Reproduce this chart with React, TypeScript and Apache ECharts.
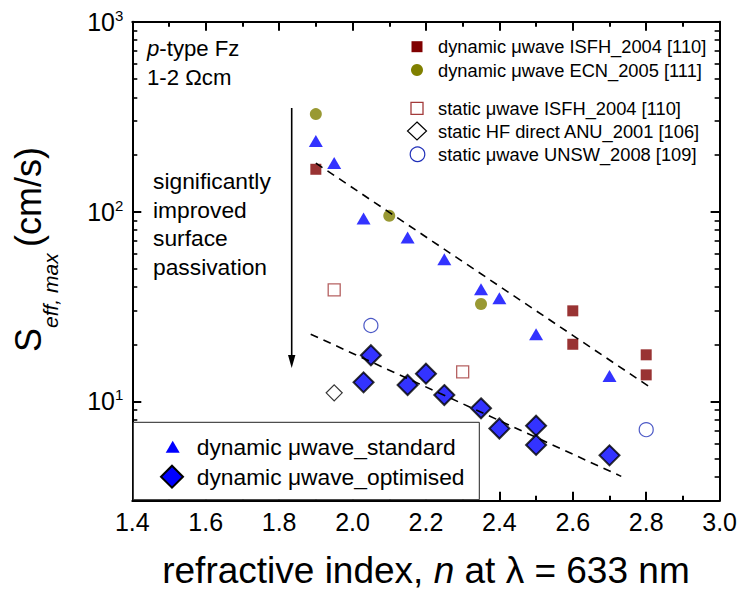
import React, { useEffect, useRef } from "react";
import * as echarts from "echarts";

const FONT = '"Liberation Sans", Arial, Helvetica, sans-serif';

// Axis ranges
const xRange = [1.4, 3.0];
const xStep = 0.2;
const yRange = [3, 1000];

// Refractive index n and S_eff,max (cm/s) for each data set
const standardN = [1.9, 1.95, 2.03, 2.15, 2.25, 2.35, 2.4, 2.5, 2.7];
const standardS = [235, 180, 92, 73, 56, 39, 35, 22.6, 13.6];

const optimisedN = [2.03, 2.05, 2.15, 2.2, 2.25, 2.35, 2.4, 2.5, 2.5, 2.7];
const optimisedS = [12.6, 17.5, 12.2, 14.0, 10.8, 9.2, 7.2, 7.45, 5.9, 5.2];

const isfhDynamicN = [1.9, 2.6, 2.6, 2.8, 2.8];
const isfhDynamicS = [167, 30, 20, 17.6, 13.8];

const ecnDynamicN = [1.9, 2.1, 2.35];
const ecnDynamicS = [326, 95, 32.6];

const isfhStaticN = [1.95, 2.3];
const isfhStaticS = [38.7, 14.3];

const anuStaticN = [1.95];
const anuStaticS = [11.1];

const unswStaticN = [2.05, 2.8];
const unswStaticS = [25.1, 7.1];

// Exponential trend lines (straight on the log axis)
const trendStandardN = [1.9, 2.81];
const trendStandardS = [180, 11.9];
const trendOptimisedN = [1.886, 2.732];
const trendOptimisedS = [22.6, 4.03];

const legendTopGroup1 = ["dynamic \u03bcwave ISFH_2004 [110]", "dynamic \u03bcwave ECN_2005 [111]"];
const legendTopGroup2 = [
  "static \u03bcwave ISFH_2004 [110]",
  "static HF direct ANU_2001 [106]",
  "static \u03bcwave UNSW_2008 [109]",
];
const legendBottom = ["dynamic \u03bcwave_standard", "dynamic \u03bcwave_optimised"];

const pairs = (xs: number[], ys: number[]) => xs.map((x, i) => [x, ys[i]]);

const MAROON = "#800000";
const OLIVE = "#808000";
const BLUE = "#0000ff";
const OPEN_RED = "#a33a3a";
const OPEN_BLUE = "#1f2fb8";

function buildOption() {
  const axisLine = { show: true, onZero: false, lineStyle: { color: "#000", width: 2 } };
  const axisTick = { show: true, inside: true, length: 9, lineStyle: { color: "#000", width: 2 } };
  const minorTickX = { show: true, splitNumber: 2, length: 5, lineStyle: { color: "#000", width: 2 } };
  const minorTickY = { show: true, splitNumber: 9, length: 5, lineStyle: { color: "#000", width: 1.6 } };

  const yLabelFormatter = (v: number) => {
    const e = Math.log10(v);
    if (Math.abs(e - Math.round(e)) > 1e-6) return "";
    return `{b|10}{s|${Math.round(e)}}`;
  };

  const text = (x: number, y: number, t: string, size: number, extra: any = {}) => ({
    type: "text",
    x,
    y,
    z: 120,
    style: {
      text: t,
      fontSize: size,
      fontFamily: FONT,
      fill: "#000",
      verticalAlign: "middle",
      align: "left",
      ...extra,
    },
  });

  const topRows1 = [46.7, 70];
  const topRows2 = [108.3, 131, 154.3];
  const legendX = 417;
  const legendTextX = 438;
  const legendTopSize = 18.3;
  const legendBottomSize = 22.8;
  const noteSize = 22.8;

  const graphic: any[] = [
    // sample description
    text(147, 48, "{i|p}-type Fz", 22.2, {
      rich: { i: { fontStyle: "italic", fontSize: 22.2, fontFamily: FONT, fill: "#000" } },
    }),
    text(147, 77, "1-2 \u03a9cm", 22.2),
    // annotation with arrow
    text(153, 166.6, "significantly\nimproved\nsurface\npassivation", noteSize, {
      verticalAlign: "top",
      lineHeight: 28.7,
    }),
    {
      type: "line",
      z: 120,
      shape: { x1: 291.7, y1: 108, x2: 291.7, y2: 357 },
      style: { stroke: "#000", lineWidth: 1.6 },
    },
    {
      type: "polygon",
      z: 120,
      shape: { points: [[288, 355], [295.4, 355], [291.7, 368]] },
      style: { fill: "#000" },
    },
    // top-right legend, first group
    {
      type: "rect",
      z: 120,
      shape: { x: legendX - 5.5, y: topRows1[0] - 5.5, width: 11, height: 11 },
      style: { fill: MAROON },
    },
    {
      type: "circle",
      z: 120,
      shape: { cx: legendX, cy: topRows1[1], r: 6 },
      style: { fill: OLIVE },
    },
    text(legendTextX, topRows1[0], legendTopGroup1[0], legendTopSize),
    text(legendTextX, topRows1[1], legendTopGroup1[1], legendTopSize),
    // top-right legend, second group
    {
      type: "rect",
      z: 120,
      shape: { x: legendX - 6, y: topRows2[0] - 6, width: 12, height: 12 },
      style: { fill: "none", stroke: OPEN_RED, lineWidth: 1.3 },
    },
    {
      type: "polygon",
      z: 120,
      shape: {
        points: [
          [legendX, topRows2[1] - 9],
          [legendX + 9.5, topRows2[1]],
          [legendX, topRows2[1] + 9],
          [legendX - 9.5, topRows2[1]],
        ],
      },
      style: { fill: "none", stroke: "#000", lineWidth: 1.2 },
    },
    {
      type: "circle",
      z: 120,
      shape: { cx: legendX + 0.5, cy: topRows2[2], r: 7.3 },
      style: { fill: "none", stroke: OPEN_BLUE, lineWidth: 1.2 },
    },
    text(legendTextX, topRows2[0], legendTopGroup2[0], legendTopSize),
    text(legendTextX, topRows2[1], legendTopGroup2[1], legendTopSize),
    text(legendTextX, topRows2[2], legendTopGroup2[2], legendTopSize),
    // framed legend, lower left
    {
      type: "rect",
      z: 110,
      shape: { x: 133.3, y: 422.3, width: 346, height: 77.4 },
      style: { fill: "#fff", stroke: "#222", lineWidth: 1 },
    },
    {
      type: "polygon",
      z: 120,
      shape: { points: [[165.7, 452.7], [179.7, 452.7], [172.7, 440.7]] },
      style: { fill: BLUE },
    },
    {
      type: "polygon",
      z: 120,
      shape: { points: [[172, 465.7], [183, 476.7], [172, 487.7], [161, 476.7]] },
      style: { fill: BLUE, stroke: "#000", lineWidth: 2 },
    },
    text(196.7, 447, legendBottom[0], legendBottomSize),
    text(196.7, 477, legendBottom[1], legendBottomSize),
    // y-axis title, set piece by piece (reads upwards)
    {
      type: "text",
      x: 28,
      y: 352,
      rotation: Math.PI / 2,
      style: { text: "S", fontSize: 36, fontFamily: FONT, fill: "#000", align: "left", verticalAlign: "middle" },
    },
    {
      type: "text",
      x: 50,
      y: 328,
      rotation: Math.PI / 2,
      style: {
        text: "eff, max",
        fontSize: 21,
        fontStyle: "italic",
        fontFamily: FONT,
        fill: "#000",
        align: "left",
        verticalAlign: "middle",
      },
    },
    {
      type: "text",
      x: 28,
      y: 247,
      rotation: Math.PI / 2,
      style: { text: "(cm/s)", fontSize: 36, fontFamily: FONT, fill: "#000", align: "left", verticalAlign: "middle" },
    },
  ];

  return {
    animation: false,
    backgroundColor: "#fff",
    textStyle: { fontFamily: FONT },
    grid: { left: 132.3, right: 20, top: 21.7, bottom: 93.3, containLabel: false },
    xAxis: [
      {
        type: "value",
        position: "bottom",
        min: xRange[0],
        max: xRange[1],
        interval: xStep,
        axisLine,
        axisTick,
        minorTick: minorTickX,
        splitLine: { show: false },
        axisLabel: {
          fontSize: 25,
          fontFamily: FONT,
          color: "#000",
          margin: 9,
          formatter: (v: number) => v.toFixed(1),
        },
        name: "refractive index, {i|n} at \u03bb = 633 nm",
        nameLocation: "middle",
        nameGap: 51,
        nameTextStyle: {
          fontSize: 37,
          fontFamily: FONT,
          color: "#000",
          rich: { i: { fontSize: 37, fontFamily: FONT, fontStyle: "italic", color: "#000" } },
        },
      },
      {
        type: "value",
        position: "top",
        min: xRange[0],
        max: xRange[1],
        interval: xStep,
        axisLine,
        axisTick,
        minorTick: minorTickX,
        splitLine: { show: false },
        axisLabel: { show: false },
      },
    ],
    yAxis: [
      {
        type: "log",
        logBase: 10,
        position: "left",
        min: yRange[0],
        max: yRange[1],
        axisLine,
        axisTick,
        minorTick: minorTickY,
        splitLine: { show: false },
        minorSplitLine: { show: false },
        axisLabel: {
          margin: 9,
          formatter: yLabelFormatter,
          rich: {
            b: { fontSize: 25, fontFamily: FONT, color: "#000", lineHeight: 28 },
            s: { fontSize: 15, fontFamily: FONT, color: "#000", lineHeight: 14, verticalAlign: "top" },
          },
        },
      },
      {
        type: "log",
        logBase: 10,
        position: "right",
        min: yRange[0],
        max: yRange[1],
        axisLine,
        axisTick,
        minorTick: minorTickY,
        splitLine: { show: false },
        minorSplitLine: { show: false },
        axisLabel: { show: false },
      },
    ],
    graphic,
    series: [
      {
        name: legendBottom[0],
        type: "scatter",
        data: pairs(standardN, standardS),
        symbol: "triangle",
        symbolSize: [14, 12],
        itemStyle: { color: BLUE },
      },
      {
        name: legendTopGroup1[0],
        type: "scatter",
        data: pairs(isfhDynamicN, isfhDynamicS),
        symbol: "rect",
        symbolSize: 11,
        itemStyle: { color: MAROON },
      },
      {
        name: legendTopGroup1[1],
        type: "scatter",
        data: pairs(ecnDynamicN, ecnDynamicS),
        symbol: "circle",
        symbolSize: 12,
        itemStyle: { color: OLIVE },
      },
      {
        name: legendTopGroup2[0],
        type: "scatter",
        data: pairs(isfhStaticN, isfhStaticS),
        symbol: "rect",
        symbolSize: 12,
        itemStyle: { color: "rgba(255,255,255,0)", borderColor: OPEN_RED, borderWidth: 1.3 },
      },
      {
        name: legendTopGroup2[1],
        type: "scatter",
        data: pairs(anuStaticN, anuStaticS),
        symbol: "diamond",
        symbolSize: 16,
        itemStyle: { color: "rgba(255,255,255,0)", borderColor: "#000", borderWidth: 1.2 },
      },
      {
        name: legendTopGroup2[2],
        type: "scatter",
        data: pairs(unswStaticN, unswStaticS),
        symbol: "circle",
        symbolSize: 14,
        itemStyle: { color: "rgba(255,255,255,0)", borderColor: OPEN_BLUE, borderWidth: 1.2 },
      },
      {
        name: legendBottom[1],
        type: "scatter",
        data: pairs(optimisedN, optimisedS),
        symbol: "diamond",
        symbolSize: 20,
        itemStyle: { color: BLUE, borderColor: "#000", borderWidth: 2 },
      },
      {
        name: "trend standard",
        type: "line",
        z: 4,
        data: pairs(trendStandardN, trendStandardS),
        symbol: "none",
        lineStyle: { color: "#000", width: 1.6, type: [8, 6] },
      },
      {
        name: "trend optimised",
        type: "line",
        z: 4,
        data: pairs(trendOptimisedN, trendOptimisedS),
        symbol: "none",
        lineStyle: { color: "#000", width: 1.6, type: [8, 6] },
      },
    ],
  };
}

export default function App() {
  const ref = useRef<HTMLDivElement>(null);
  useEffect(() => {
    if (!ref.current) return;
    const chart = echarts.init(ref.current, undefined, { renderer: "svg" });
    chart.setOption(buildOption() as any);
    return () => chart.dispose();
  }, []);
  return (
    <div
      ref={ref}
      style={{ position: "fixed", left: 0, top: 0, width: 740, height: 594, background: "#fff" }}
    />
  );
}
